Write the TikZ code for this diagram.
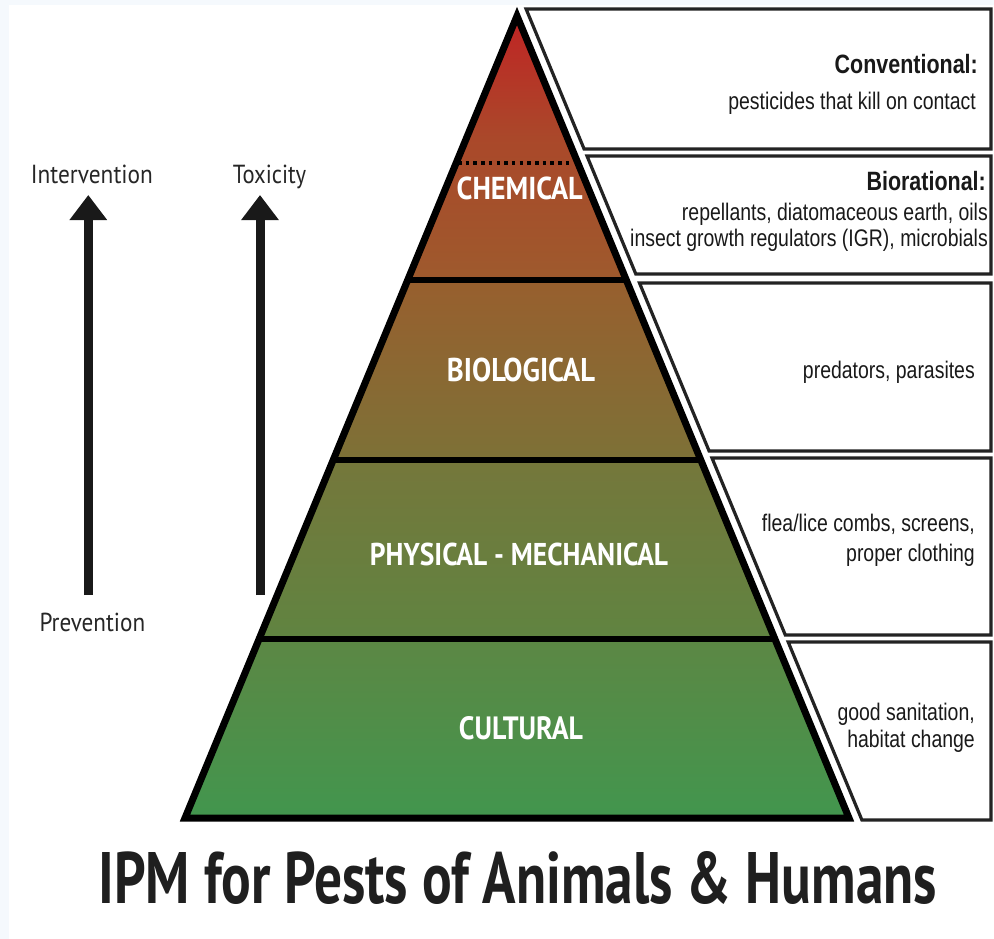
\documentclass[tikz,border=0pt]{standalone}
\usepackage{fontspec}
\usepackage{graphicx}
\setmainfont{Liberation Sans}
\newfontfamily\boxfont[FakeStretch=0.81]{Liberation Sans}
\newfontfamily\ptsans{PT Sans}
\usetikzlibrary{arrows.meta,calc}
\definecolor{edgeblue}{RGB}{245,249,253}
\definecolor{cRed}{RGB}{192,36,36}
\definecolor{cChemM}{RGB}{170,72,42}
\definecolor{cChemB}{RGB}{158,90,45}
\definecolor{cBioT}{RGB}{152,95,46}
\definecolor{cBioB}{RGB}{125,113,55}
\definecolor{cPhyT}{RGB}{117,119,59}
\definecolor{cPhyB}{RGB}{96,132,65}
\definecolor{cCulT}{RGB}{92,135,68}
\definecolor{cCulB}{RGB}{66,150,78}
\definecolor{boxline}{RGB}{35,35,35}
\pgfdeclareverticalshading{chemshade}{100bp}{color(0bp)=(cChemB); color(25bp)=(cChemB); color(52bp)=(cChemM); color(75bp)=(cRed); color(100bp)=(cRed)}
\newcommand\fitto[3]{\resizebox{#1pt}{#2pt}{#3}}
\tikzset{
  sepline/.style={line width=6pt, black},
  outline/.style={line width=7pt, black, line join=miter},
  dotline/.style={line width=3.5pt, black, dash pattern=on 3.5pt off 4.2pt},
  panel/.style={draw=boxline, line width=3.2pt, fill=white, line join=miter},
  btxt/.style={font=\boxfont\fontsize{24}{27}\selectfont, inner sep=0pt, anchor=base east, text=black!90},
  bhead/.style={btxt, font=\boxfont\bfseries\fontsize{26.5}{30}\selectfont},
  plab/.style={font=\ptsans\bfseries, text=white, inner sep=0pt, anchor=base},
  slab/.style={font=\ptsans, text=black!85, inner sep=0pt, anchor=base west},
  bigarrow/.style={line width=9pt, black!90, -{Triangle[width=36pt,length=25pt]}},
}
\begin{document}
\begin{tikzpicture}[x=1pt,y=-1pt]
\useasboundingbox (0,0) rectangle (994,939);
\fill[white] (0,0) rectangle (994,939);
\fill[edgeblue] (0,0) rectangle (994,5);
\fill[edgeblue] (0,0) rectangle (9,939);

% pyramid geometry
\coordinate (A) at (517,16);
\coordinate (BL) at (185,818);
\coordinate (BR) at (849,818);
\coordinate (L1) at (407.7,280); \coordinate (R1) at (626.3,280);
\coordinate (L2) at (333.2,460); \coordinate (R2) at (700.8,460);
\coordinate (L3) at (259.1,639); \coordinate (R3) at (774.9,639);

% right panels
\draw[panel] (526.1,9) -- (991,9) -- (991,149) -- (584.1,149) -- cycle;
\draw[panel] (587.0,156) -- (991,156) -- (991,274) -- (635.8,274) -- cycle;
\draw[panel] (639.5,283) -- (991,283) -- (991,451) -- (709.1,451) -- cycle;
\draw[panel] (712.0,458) -- (991,458) -- (991,635) -- (785.3,635) -- cycle;
\draw[panel] (788.2,642) -- (991,642) -- (991,820) -- (861.9,820) -- cycle;

% bands
\shade[shading=chemshade] (A) -- (R1) -- (L1) -- cycle;
\shade[top color=cBioT, bottom color=cBioB] (L1) -- (R1) -- (R2) -- (L2) -- cycle;
\shade[top color=cPhyT, bottom color=cPhyB] (L2) -- (R2) -- (R3) -- (L3) -- cycle;
\shade[top color=cCulT, bottom color=cCulB] (L3) -- (R3) -- (BR) -- (BL) -- cycle;

\draw[sepline] (L1) -- (R1);
\draw[sepline] (L2) -- (R2);
\draw[sepline] (L3) -- (R3);
\coordinate (D1) at (458,163); \coordinate (D2) at (573,163);
\draw[dotline] (D1) -- (D2);
\draw[outline] (A) -- (BR) -- (BL) -- cycle;

% pyramid labels
\node[plab] (chem) at (519.7,199.3) {\fitto{126}{22.6}{CHEMICAL}};
\node[plab] (bio) at (521,381.7) {\fitto{148}{23.5}{BIOLOGICAL}};
\node[plab] (phys) at (519,565) {\fitto{298}{22.5}{PHYSICAL - MECHANICAL}};
\node[plab] (cult) at (521,739) {\fitto{124}{23}{CULTURAL}};

% panel texts
\node[bhead] (conv) at (978,74) {Conventional:};
\node[btxt] (convt) at (976,110) {pesticides that kill on contact};
\node[bhead] (biora) at (986,191) {Biorational:};
\node[btxt] (biot1) at (988,221) {repellants, diatomaceous earth, oils};
\node[btxt] (biot2) at (988,247) {insect growth regulators (IGR), microbials};
\node[btxt] (pred) at (975,378) {predators, parasites};
\node[btxt] (flea1) at (975,531) {flea/lice combs, screens,};
\node[btxt] (flea2) at (975,561) {proper clothing};
\node[btxt] (san1) at (975,720) {good sanitation,};
\node[btxt] (san2) at (975,747) {habitat change};

% left scale
\node[slab] (inter) at (30.7,183.3) {\fitto{122}{18.5}{Intervention}};
\node[slab] (toxi) at (232.7,183) {\fitto{73.3}{18.5}{Toxicity}};
\node[slab] (prev) at (39.3,631.7) {\fitto{105.7}{18.4}{Prevention}};
\coordinate (ia0) at (88.3,595); \coordinate (ia1) at (88.3,195);
\coordinate (ta0) at (260,595); \coordinate (ta1) at (260,195);
\draw[bigarrow] (ia0) -- (ia1);
\draw[bigarrow] (ta0) -- (ta1);

% title
\node[font=\ptsans\bfseries, inner sep=0pt, anchor=base west, text=black!88] (title) at (98.3,903.3) {\fitto{838.4}{52}{IPM for Pests of Animals \& Humans}};
\end{tikzpicture}
\end{document}
